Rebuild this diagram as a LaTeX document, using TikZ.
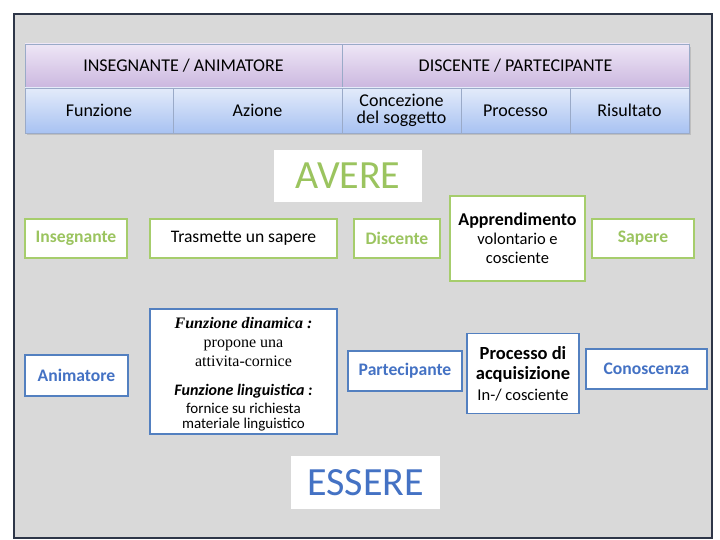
\documentclass[tikz,border=0pt]{standalone}
\usepackage{fontspec}
\setmainfont{Carlito}
\newfontfamily\timesf{Liberation Serif}
\definecolor{framegray}{HTML}{D9D9D9}
\definecolor{frameline}{HTML}{2E3648}
\definecolor{cellline}{HTML}{9AAAC8}
\definecolor{purtop}{HTML}{EEE6F6}
\definecolor{purbot}{HTML}{CBB7DF}
\definecolor{blutop}{HTML}{E3EBFA}
\definecolor{blubot}{HTML}{A8C2F2}
\definecolor{gtxt}{HTML}{9BC45F}
\definecolor{gline}{HTML}{A6CD6C}
\definecolor{btxt}{HTML}{4472C4}
\definecolor{bline}{HTML}{5380C0}
\begin{document}
\begin{tikzpicture}[x=1pt,y=-1pt,
  hdr/.style={draw=cellline,line width=0.6pt,inner sep=0pt,align=center,top color=purtop,bottom color=purbot,font=\fontsize{18}{21}\selectfont},
  sub/.style={draw=cellline,line width=0.6pt,inner sep=0pt,align=center,top color=blutop,bottom color=blubot,font=\fontsize{18}{21}\selectfont},
  gbox/.style={draw=gline,line width=1.6pt,fill=white,inner sep=0pt,align=center,font=\fontsize{17.6}{19}\selectfont},
  bbox/.style={draw=bline,line width=1.6pt,fill=white,inner sep=0pt,align=center,font=\fontsize{17.6}{19}\selectfont},
  gname/.style={gbox,text=gtxt,font=\fontsize{17.6}{19}\selectfont\bfseries},
  bname/.style={bbox,text=btxt,font=\fontsize{17.6}{19}\selectfont\bfseries},
  title/.style={fill=white,inner sep=0pt,font=\fontsize{40}{40}\selectfont}]
\useasboundingbox (0,0) rectangle (720,540);
\draw[frameline,line width=1.6pt,fill=framegray] (14,14) rectangle (712,538);
% table shadow
\fill[black!25] (27,47) rectangle (691,135);
% header row
\node[hdr,minimum width=317,minimum height=44] (h1) at (183.5,66) {INSEGNANTE / ANIMATORE};
\node[hdr,minimum width=347,minimum height=44] (h2) at (515.5,66) {DISCENTE / PARTECIPANTE};
% second row
\node[sub,minimum width=148,minimum height=45] (c1) at (99,110.5) {Funzione};
\node[sub,minimum width=169,minimum height=45] (c2) at (257.5,110.5) {Azione};
\node[sub,minimum width=119,minimum height=45] (c3) at (401.5,110.5) {\raisebox{-2pt}{\shortstack{Concezione\\[1pt]del soggetto}}};
\node[sub,minimum width=109,minimum height=45] (c4) at (515.5,110.5) {Processo};
\node[sub,minimum width=119,minimum height=45] (c5) at (629.5,110.5) {Risultato};
% AVERE
\node[title,text=gtxt,minimum width=148,minimum height=52] (avere) at (348,176) {AVERE};
\node[gname,minimum width=102,minimum height=39] (ins) at (76,238.5) {Insegnante};
\node[gbox,minimum width=187,minimum height=39] (tra) at (243.5,238.5) {Trasmette un sapere};
\node[gname,minimum width=86,minimum height=39] (dis) at (397,238.5) {Discente};
\node[gbox,minimum width=135,minimum height=85,font=\fontsize{16.5}{19}\selectfont] (app) at (517.5,238.5) {{\fontsize{18}{19}\selectfont\bfseries Apprendimento}\\volontario e\\cosciente};
\node[gname,minimum width=102,minimum height=39] (sap) at (643,238.5) {Sapere};
% ESSERE
\node[title,text=btxt,minimum width=149,minimum height=53] (essere) at (365.5,482.5) {ESSERE};
\node[bname,minimum width=103,minimum height=41] (ani) at (76.5,375.5) {Animatore};
\node[bbox,minimum width=187,minimum height=125,font=\fontsize{16}{19}\selectfont] (fun) at (243.5,371.5) {%
  \rule{0pt}{17pt}{\timesf\bfseries\itshape Funzione dinamica :}\\
  {\timesf propone una}\\
  {\timesf attivita-cornice}\\[10pt]
  {\bfseries\itshape Funzione linguistica :}\\[-1pt]
  {\fontsize{15}{15}\selectfont fornice su richiesta}\\[-4pt]
  {\fontsize{15}{15}\selectfont materiale linguistico}};
\node[bname,minimum width=114,minimum height=40] (par) at (405,371) {Partecipante};
\node[bbox,minimum width=112,minimum height=80,font=\fontsize{16.5}{20.5}\selectfont] (pro) at (523,373.5) {{\bfseries\fontsize{18.5}{20.5}\selectfont Processo di}\\{\bfseries\fontsize{18.5}{20.5}\selectfont acquisizione}\\In-/ cosciente};
\node[bname,minimum width=121,minimum height=40] (con) at (646.5,369) {Conoscenza};
\end{tikzpicture}
\end{document}
